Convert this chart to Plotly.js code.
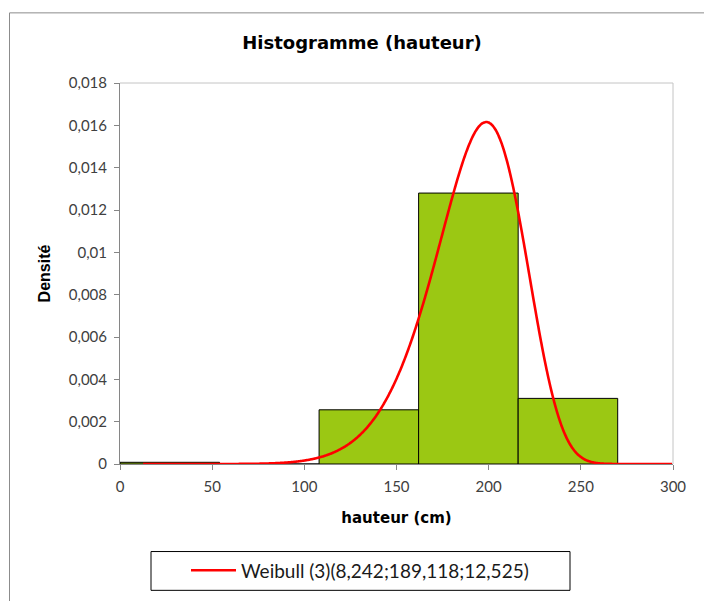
<!DOCTYPE html>
<html>
<head>
<meta charset="utf-8">
<script src="https://cdn.plot.ly/plotly-3.0.1.min.js"></script>
<style>
  html, body { margin: 0; padding: 0; background: #ffffff; }
  #chart { width: 704px; height: 601px; }
</style>
</head>
<body>
<div id="chart"></div>
<script>
// Histogram classes (lower bound of each class, cm) and their densities
var binStart = [0, 54, 108, 162, 216];
var binWidth = 54;
var density = [0.00008, 0, 0.00256, 0.0128, 0.0031];

// Fitted 3-parameter Weibull: shape, scale, location
var weibullParams = [8.242, 189.118, 12.525];
var weibullLabel = 'Weibull (3)(8,242;189,118;12,525)';

// Axis ticks
var xTicks = [0, 50, 100, 150, 200, 250, 300];
var yTicks = [0, 0.002, 0.004, 0.006, 0.008, 0.01, 0.012, 0.014, 0.016, 0.018];
var yTickText = ['0', '0,002', '0,004', '0,006', '0,008', '0,01', '0,012', '0,014', '0,016', '0,018'];

// Density of the fitted Weibull curve over the x range
function weibullPdf(x, p) {
  var k = p[0], lam = p[1], loc = p[2];
  var z = (x - loc) / lam;
  if (z <= 0) return 0;
  return (k / lam) * Math.pow(z, k - 1) * Math.exp(-Math.pow(z, k));
}
var curveX = [];
var curveY = [];
for (var x = weibullParams[2]; x <= 300; x += 0.5) {
  curveX.push(x);
  curveY.push(weibullPdf(x, weibullParams));
}

// Plot area in pixels, used to place decorations in paper units
var L = 120, R = 673, T = 83, B = 466;
function px(v) { return (v - L) / (R - L); }
function py(v) { return (B - v) / (B - T); }

var traces = [
  {
    type: 'bar',
    x: binStart,
    y: density,
    width: binWidth,
    offset: 0,
    marker: { color: '#9bc813', line: { color: '#000000', width: 1 } },
    showlegend: false,
    hoverinfo: 'skip'
  },
  {
    type: 'scatter',
    mode: 'lines',
    x: curveX,
    y: curveY,
    name: weibullLabel,
    line: { color: '#ff0000', width: 2.6, shape: 'spline' },
    showlegend: true
  }
];

var layout = {
  width: 704,
  height: 601,
  margin: { l: L, r: 704 - R, t: T, b: 601 - B, pad: 0 },
  paper_bgcolor: '#ffffff',
  plot_bgcolor: '#ffffff',
  separators: ', ',
  bargap: 0,
  title: {
    text: '<b>Histogramme (hauteur)</b>',
    font: { family: 'DejaVu Sans', size: 18, color: '#000000' },
    x: 362 / 704, xanchor: 'center',
    y: 1 - 43 / 601, yanchor: 'middle'
  },
  xaxis: {
    range: [0, 300],
    tickvals: xTicks,
    ticks: 'outside', ticklen: 5, tickcolor: '#868686',
    ticklabelstandoff: 4,
    showline: true, linecolor: '#868686', linewidth: 1,
    showgrid: false, zeroline: false,
    tickfont: { family: 'Lato', size: 15, color: '#404040' },
    title: {
      text: '<b>hauteur (cm)</b>',
      font: { family: 'DejaVu Sans', size: 15, color: '#000000' },
      standoff: 18
    }
  },
  yaxis: {
    range: [0, 0.018],
    tickvals: yTicks,
    ticktext: yTickText,
    ticks: 'outside', ticklen: 5, tickcolor: '#868686',
    ticklabelstandoff: 4,
    showline: true, linecolor: '#868686', linewidth: 1,
    showgrid: false, zeroline: false,
    tickfont: { family: 'Lato', size: 15, color: '#404040' },
    title: {
      text: '<b>Densité</b>',
      font: { family: 'Liberation Sans', size: 16, color: '#000000' },
      standoff: 14
    }
  },
  showlegend: true,
  legend: {
    orientation: 'h',
    x: px(186), xanchor: 'left',
    y: py(573), yanchor: 'middle',
    bgcolor: 'rgba(0,0,0,0)',
    borderwidth: 0,
    itemwidth: 45,
    font: { family: 'Lato', size: 19, color: '#1a1a1a' }
  },
  shapes: [
    // plot frame top and right
    { type: 'line', xref: 'paper', yref: 'paper', x0: 0, x1: 1, y0: 1, y1: 1,
      line: { color: '#c4c4c4', width: 1 } },
    { type: 'line', xref: 'paper', yref: 'paper', x0: 1, x1: 1, y0: 0, y1: 1,
      line: { color: '#c4c4c4', width: 1 } },
    // legend box
    { type: 'rect', xref: 'paper', yref: 'paper',
      x0: px(151), x1: px(570), y0: py(593), y1: py(554),
      line: { color: '#000000', width: 1 } },
    // outer chart border
    { type: 'rect', xref: 'paper', yref: 'paper',
      x0: px(9.5), x1: px(712), y0: py(612), y1: py(12.5),
      line: { color: '#8c8c8c', width: 1 } }
  ]
};

Plotly.newPlot('chart', traces, layout, { displayModeBar: false, staticPlot: true });
</script>
</body>
</html>
